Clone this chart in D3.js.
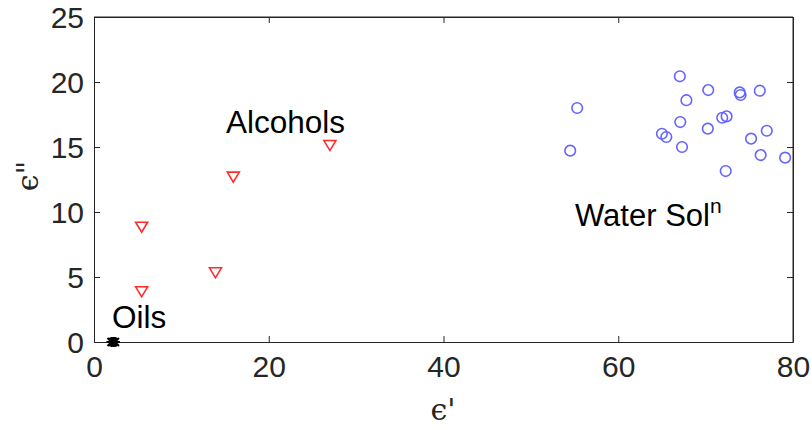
<!DOCTYPE html>
<html><head><meta charset="utf-8">
<script src="https://cdn.jsdelivr.net/npm/d3@7"></script>
<style>body{margin:0;background:#fff}svg{display:block}</style>
</head><body>
<svg id="c" width="812" height="430"></svg>
<script>
const waterX = [67.05,70.3,73.9,74.0,76.2,55.3,67.8,71.9,72.4,67.1,70.25,77.0,65.0,65.5,75.2,67.3,54.5,76.3,79.1,72.3];
const waterY = [20.44,19.38,19.2,19.0,19.33,18.0,18.6,17.25,17.36,16.92,16.41,16.25,16.02,15.77,15.64,15.0,14.72,14.38,14.18,13.15];
const alcX = [27.0,15.94,5.45,13.9,5.45];
const alcY = [15.15,12.72,8.87,5.36,3.9];
const oilX = [2.0,2.2,2.4];
const oilY = [0,0,0];
const xTicks = [0,20,40,60,80];
const yTicks = [0,5,10,15,20,25];

const svg = d3.select('#c');
const L=94, R=793, T=17, B=342;
const x = d3.scaleLinear().domain([0,80]).range([L,R]);
const y = d3.scaleLinear().domain([0,25]).range([B,T]);
const axCol = '#262626';
const font = 'Liberation Sans, Arial, sans-serif';

svg.append('line').attr('x1',L).attr('x2',R).attr('y1',T).attr('y2',T).attr('stroke',axCol).attr('stroke-width',1);
svg.append('line').attr('x1',R).attr('x2',R).attr('y1',T).attr('y2',B).attr('stroke',axCol).attr('stroke-width',1);

const xa = svg.append('g').attr('transform',`translate(0,${B})`)
  .call(d3.axisBottom(x).tickValues(xTicks).tickSizeInner(-6).tickSizeOuter(0).tickPadding(14));
const ya = svg.append('g').attr('transform',`translate(${L},0)`)
  .call(d3.axisLeft(y).tickValues(yTicks).tickSizeInner(-6).tickSizeOuter(0).tickPadding(10));
svg.append('g').attr('transform',`translate(${R},0)`)
  .call(d3.axisRight(y).tickValues(yTicks).tickSizeInner(-6).tickSizeOuter(0).tickFormat(''));
svg.append('g').attr('transform',`translate(0,${T})`)
  .call(d3.axisTop(x).tickValues(xTicks).tickSizeInner(-6).tickSizeOuter(0).tickFormat(''));
svg.selectAll('.domain').attr('stroke',axCol);
svg.selectAll('.tick line').attr('stroke',axCol);
svg.selectAll('.tick text').attr('fill',axCol).style('font-family',font).style('font-size','30px');
xa.selectAll('.tick text').attr('dy','0.71em');
ya.selectAll('.tick text').attr('dy','0.36em');

svg.append('g').selectAll('circle').data(waterX.map((v,i)=>[v,waterY[i]])).join('circle')
  .attr('cx',d=>x(d[0])).attr('cy',d=>y(d[1])).attr('r',5.3)
  .attr('fill','none').attr('stroke','#6464ff').attr('stroke-width',1.6);

const tri = 'M-6,-4.5 L6,-4.5 L0,5.5 Z';
svg.append('g').selectAll('path').data(alcX.map((v,i)=>[v,alcY[i]])).join('path')
  .attr('d',tri).attr('transform',d=>`translate(${x(d[0])},${y(d[1])})`)
  .attr('fill','none').attr('stroke','#ff2a2a').attr('stroke-width',1.6);

const star = 'M-4,-4 L4,4 M-4,4 L4,-4 M0,-5 L0,5 M-5,0 L5,0';
svg.append('g').selectAll('path').data(oilX.map((v,i)=>[v,oilY[i]])).join('path')
  .attr('d',star).attr('transform',d=>`translate(${x(d[0])},${y(d[1])})`)
  .attr('fill','none').attr('stroke','#000').attr('stroke-width',2);

svg.append('text').attr('x',226).attr('y',133).text('Alcohols').style('font-family',font).style('font-size','31.5px').attr('fill','#000');
svg.append('text').attr('x',112).attr('y',328).text('Oils').style('font-family',font).style('font-size','31.5px').attr('fill','#000');
const ws = svg.append('text').attr('x',575).attr('y',226).style('font-family',font).style('font-size','31px').attr('fill','#000');
ws.append('tspan').text('Water Sol');
ws.append('tspan').text('n').attr('dy',-13).style('font-size','21px');

svg.append('text').attr('x',443).attr('y',420).attr('text-anchor','middle')
  .style('font-family','DejaVu Serif, serif').style('font-size','30px').attr('fill',axCol).text('ϵ\'');
svg.append('text').attr('transform','translate(38,176) rotate(-90)').attr('text-anchor','middle')
  .style('font-family','DejaVu Serif, serif').style('font-size','30px').attr('fill',axCol).text('ϵ"');
</script>
</body></html>
